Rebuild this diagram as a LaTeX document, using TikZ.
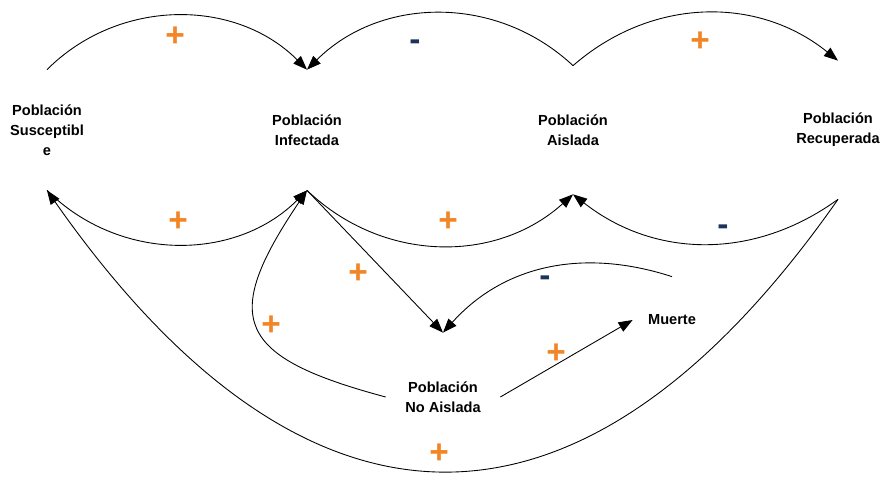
\documentclass[tikz,border=0pt]{standalone}
\usepackage{fontspec}
\setmainfont{Liberation Sans}
\usepackage{tikz}
\usetikzlibrary{arrows.meta}
\usetikzlibrary{positioning}
\definecolor{posorange}{RGB}{242,133,38}
\definecolor{negblue}{RGB}{28,52,92}
\def\widthA{17.64}
\def\heightA{9.54}

\tikzset{
    var/.style={align=center, font=\fontsize{8.3}{11.5}\selectfont\bfseries,
        inner sep=0pt, minimum width=2.28cm, minimum height=2.4cm},
    link/.style={->, >={Triangle[length=8pt,width=6pt]}, line width=0.5pt},
    plussign/.style={text=posorange, font=\fontsize{19}{19}\selectfont\bfseries},
    minussign/.style={text=negblue, font=\fontsize{19}{19}\selectfont\bfseries},
}

\begin{document}
\begin{tikzpicture}
        \useasboundingbox (0,0) rectangle (\widthA,\heightA);

        \node[var] (sus) at (0.94,6.94) {Población\\Susceptibl\\e};
        \node[var] (inf) at (6.14,6.94) {Población\\Infectada};
        \node[var, minimum height=2.56cm] (ais) at (11.46,6.94) {Población\\Aislada};
        \node[var, minimum height=2.76cm] (rec) at (16.76,6.94) {Población\\Recuperada};
        \node[var, minimum height=2.56cm] (noais) at (8.86,1.60) {Población\\No Aislada};
        \node[var, minimum width=1.56cm, minimum height=1.72cm] (mue) at (13.44,3.14) {Muerte};

        % top arcs
        \draw[link] (sus.north) to[bend left=45] (inf.north);
        \draw[link] (ais.north) to[bend right=44] (inf.north);
        \draw[link] (ais.north) to[bend left=40] (rec.north);

        % bottom arcs
        \draw[link] (sus.south) to[bend right=45] (inf.south);
        \draw[link] (inf.south) to[bend right=43] (ais.south);
        \draw[link] (rec.south) to[bend left=37] (ais.south);

        \draw[link] (inf.south) -- (noais.north);
        \draw[link] (mue.north) to[out=162,in=48] (noais.north);
        \draw[link] (noais.west) to[out=165,in=236,looseness=1.8] (inf.south);
        \draw[link] (noais.east) -- (mue.west);
        \draw[link] (rec.south) to[out=235,in=305,looseness=1.45] (sus.south);

        \node[plussign] (p1) at (3.50,8.80) {+};
        \node[minussign] (m1) at (8.30,8.64) {-};
        \node[plussign] (p2) at (14.00,8.70) {+};
        \node[plussign] (p3) at (3.56,5.10) {+};
        \node[plussign] (p4) at (8.96,5.10) {+};
        \node[minussign] (m2) at (14.46,4.94) {-};
        \node[plussign] (p5) at (7.16,4.06) {+};
        \node[minussign] (m3) at (10.90,3.92) {-};
        \node[plussign] (p6) at (5.42,3.02) {+};
        \node[plussign] (p7) at (11.12,2.46) {+};
        \node[plussign] (p8) at (8.78,0.46) {+};
    \end{tikzpicture}
\end{document}
